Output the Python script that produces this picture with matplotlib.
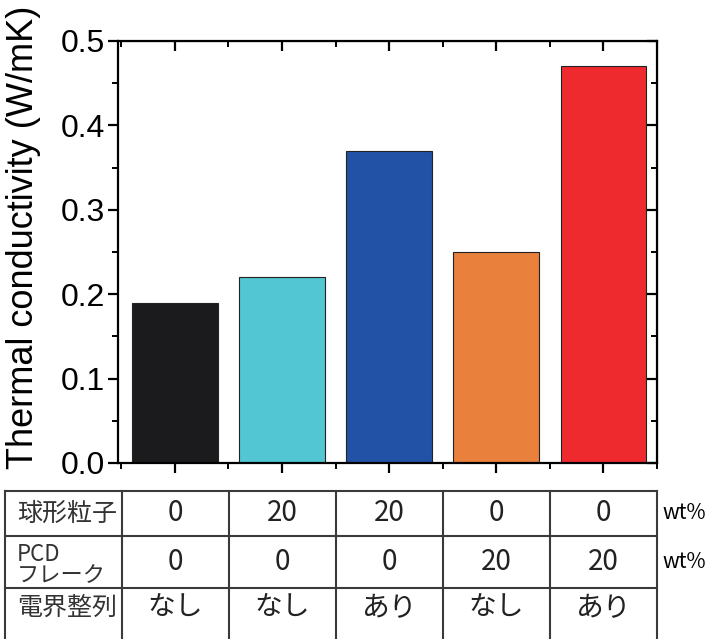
import numpy as np
import matplotlib.pyplot as plt
from matplotlib.ticker import MultipleLocator, FormatStrFormatter

# Datos
samples = [1, 2, 3, 4, 5]
conductivity = [0.19, 0.22, 0.37, 0.25, 0.47]
bar_colors = ['#1b1a1c', '#52c6d3', '#2252a6', '#e9803c', '#ee2a2f']

row_labels = ['球形粒子', 'PCD\nフレーク', '電界整列']
sphere_wt = ['0', '20', '20', '0', '0']
flake_wt = ['0', '0', '0', '20', '20']
alignment = ['なし', 'なし', 'あり', 'なし', 'あり']
row_units = ['wt%', 'wt%', '']

W, H = 706, 639
fig = plt.figure(figsize=(W / 100, H / 100), dpi=100, facecolor='white')
ax = fig.add_axes([118 / W, (H - 463) / H, (657 - 118) / W, (463 - 41) / H])

ax.bar(samples, conductivity, width=0.8, color=bar_colors,
       edgecolor='#222222', linewidth=0.8, zorder=2)

ax.set_xlim(0.47, 5.5)
ax.set_ylim(0, 0.5)
ax.yaxis.set_major_locator(MultipleLocator(0.1))
ax.yaxis.set_minor_locator(MultipleLocator(0.05))
ax.yaxis.set_major_formatter(FormatStrFormatter('%.1f'))
ax.xaxis.set_major_locator(MultipleLocator(1))
ax.xaxis.set_minor_locator(MultipleLocator(0.5))
ax.xaxis.set_major_formatter(plt.NullFormatter())
for t in ax.get_yticklabels():
    t.set_family('Liberation Sans')
ax.tick_params(axis='y', labelsize=23, pad=2)
ax.tick_params(which='major', direction='out', length=7, width=1.6)
ax.tick_params(which='minor', direction='out', length=4, width=1.4)
for s in ax.spines.values():
    s.set_linewidth(1.6)
ax.set_ylabel('Thermal conductivity (W/mK)', fontsize=26,
              family='Liberation Sans')
ax.yaxis.set_label_coords(-0.142, 0.535)

# Ejes espejo arriba y derecha con ticks hacia dentro
top = ax.secondary_xaxis('top')
top.xaxis.set_major_locator(MultipleLocator(1))
top.xaxis.set_minor_locator(MultipleLocator(0.5))
top.tick_params(which='major', direction='in', length=7, width=1.6, labeltop=False)
top.tick_params(which='minor', direction='in', length=4, width=1.4)
right = ax.secondary_yaxis('right')
right.yaxis.set_major_locator(MultipleLocator(0.1))
right.yaxis.set_minor_locator(MultipleLocator(0.05))
right.tick_params(which='major', direction='in', length=7, width=1.6, labelright=False)
right.tick_params(which='minor', direction='in', length=4, width=1.4)

# Tabla de condiciones
tab = fig.add_axes([5 / W, 0, (657 - 5) / W, (H - 491) / H])
tab.set_xlim(-0.593, 5.5)
row_edges_px = [491, 539, 595, 650]
y_edges = [(H - p) / H for p in row_edges_px]
tab.set_ylim(y_edges[-1], y_edges[0])
tab.axis('off')

lc = '#3a3a3a'
for y in y_edges[:-1]:
    tab.plot([-0.593, 5.5], [y, y], color=lc, lw=1.5, clip_on=False)
for x in [-0.593] + [s + 0.5 for s in [0] + samples]:
    tab.plot([x, x], [y_edges[0], y_edges[-1]], color=lc, lw=1.5, clip_on=False)

jp = ['Noto Sans CJK JP', 'DejaVu Sans']
rows = [sphere_wt, flake_wt, alignment]
for i, (label, vals, unit) in enumerate(zip(row_labels, rows, row_units)):
    y_low = max(y_edges[i + 1], 0.0)
    yc = (y_edges[i] + y_low) / 2
    if '\n' in label:
        tab.text(-0.48, yc - 0.005, label, fontsize=16, family=jp, ha='left',
                 va='center', linespacing=0.9, color='#333333')
    else:
        tab.text(-0.48, yc, label, fontsize=18, family=jp, ha='left',
                 va='center', color='#333333')
    for xs, v in zip(samples, vals):
        tab.text(xs, yc, v, fontsize=20, family=jp, ha='center', va='center',
                 color='#222222')
    if unit:
        tab.text(5.55, yc, unit, fontsize=15, family=jp, ha='left', va='center',
                 clip_on=False)

plt.savefig('out.png', dpi=100, facecolor='white')
plt.close()
